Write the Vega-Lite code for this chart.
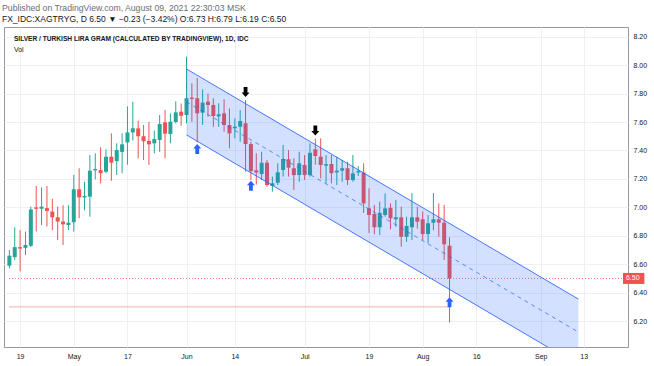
{
  "$schema": "https://vega.github.io/schema/vega-lite/v6.json",
  "width": 624,
  "height": 320,
  "autosize": {"type": "none"},
  "padding": {"left": 4, "top": 27, "right": 26, "bottom": 19},
  "background": "white",
  "config": {"view": {"stroke": "#9598a1", "strokeWidth": 1}, "font": "Liberation Sans", "axis": {"labelOverlap": false, "labelFont": "Liberation Sans"}},
  "title": {
    "text": "Published on TradingView.com, August 09, 2021 22:30:03 MSK",
    "subtitle": "FX_IDC:XAGTRYG, D 6.50 ▼ −0.23 (−3.42%) O:6.73 H:6.79 L:6.19 C:6.50",
    "anchor": "start",
    "frame": "bounds",
    "offset": 4,
    "dx": -2,
    "font": "Liberation Sans",
    "fontSize": 8.7,
    "fontWeight": "normal",
    "color": "#6a6d78",
    "subtitleFont": "Liberation Sans",
    "subtitleFontSize": 8.5,
    "subtitleColor": "#131722",
    "subtitlePadding": 2
  },
  "datasets": {
    "candles": [
      {"i": -2, "o": 6.59, "h": 6.70, "l": 6.57, "c": 6.66},
      {"i": -1, "o": 6.65, "h": 6.86, "l": 6.63, "c": 6.72},
      {"i": 0, "o": 6.72, "h": 6.84, "l": 6.55, "c": 6.71},
      {"i": 1, "o": 6.715, "h": 6.83, "l": 6.665, "c": 6.735},
      {"i": 2, "o": 6.73, "h": 7.005, "l": 6.72, "c": 6.985},
      {"i": 3, "o": 7.0, "h": 7.15, "l": 6.83, "c": 6.99},
      {"i": 4, "o": 6.99, "h": 7.14, "l": 6.875, "c": 7.005},
      {"i": 5, "o": 6.995, "h": 7.15, "l": 6.865, "c": 6.975},
      {"i": 6, "o": 6.97, "h": 7.06, "l": 6.84, "c": 6.93},
      {"i": 7, "o": 6.93, "h": 7.005, "l": 6.77, "c": 6.9},
      {"i": 8, "o": 6.9, "h": 7.015, "l": 6.735, "c": 6.88},
      {"i": 9, "o": 6.876, "h": 7.015, "l": 6.84, "c": 6.892},
      {"i": 10, "o": 6.895, "h": 7.227, "l": 6.83, "c": 7.127},
      {"i": 11, "o": 7.127, "h": 7.275, "l": 6.923, "c": 7.07},
      {"i": 12, "o": 7.07, "h": 7.18, "l": 6.98, "c": 7.08},
      {"i": 13, "o": 7.075, "h": 7.368, "l": 6.934, "c": 7.258},
      {"i": 14, "o": 7.26, "h": 7.38, "l": 7.197, "c": 7.27},
      {"i": 15, "o": 7.262, "h": 7.422, "l": 7.169, "c": 7.24},
      {"i": 16, "o": 7.25, "h": 7.408, "l": 7.24, "c": 7.356},
      {"i": 17, "o": 7.356, "h": 7.52, "l": 7.187, "c": 7.314},
      {"i": 18, "o": 7.325, "h": 7.45, "l": 7.227, "c": 7.403},
      {"i": 19, "o": 7.39, "h": 7.52, "l": 7.24, "c": 7.443},
      {"i": 20, "o": 7.457, "h": 7.71, "l": 7.3, "c": 7.527},
      {"i": 21, "o": 7.527, "h": 7.743, "l": 7.47, "c": 7.556},
      {"i": 22, "o": 7.555, "h": 7.61, "l": 7.345, "c": 7.5},
      {"i": 23, "o": 7.5, "h": 7.58, "l": 7.333, "c": 7.465},
      {"i": 24, "o": 7.467, "h": 7.6, "l": 7.298, "c": 7.443},
      {"i": 25, "o": 7.45, "h": 7.54, "l": 7.38, "c": 7.48},
      {"i": 26, "o": 7.474, "h": 7.649, "l": 7.391, "c": 7.586},
      {"i": 27, "o": 7.598, "h": 7.684, "l": 7.345, "c": 7.518},
      {"i": 28, "o": 7.516, "h": 7.661, "l": 7.45, "c": 7.602},
      {"i": 29, "o": 7.6, "h": 7.745, "l": 7.59, "c": 7.668},
      {"i": 30, "o": 7.673, "h": 7.73, "l": 7.574, "c": 7.644},
      {"i": 31, "o": 7.649, "h": 8.06, "l": 7.59, "c": 7.767},
      {"i": 32, "o": 7.771, "h": 7.872, "l": 7.602, "c": 7.762},
      {"i": 33, "o": 7.767, "h": 7.91, "l": 7.457, "c": 7.661},
      {"i": 34, "o": 7.666, "h": 7.83, "l": 7.58, "c": 7.736},
      {"i": 35, "o": 7.743, "h": 7.8, "l": 7.637, "c": 7.72},
      {"i": 36, "o": 7.72, "h": 7.767, "l": 7.567, "c": 7.642},
      {"i": 37, "o": 7.64, "h": 7.732, "l": 7.567, "c": 7.654},
      {"i": 38, "o": 7.661, "h": 7.76, "l": 7.532, "c": 7.579},
      {"i": 39, "o": 7.579, "h": 7.696, "l": 7.415, "c": 7.52},
      {"i": 40, "o": 7.556, "h": 7.626, "l": 7.485, "c": 7.567},
      {"i": 41, "o": 7.567, "h": 7.684, "l": 7.462, "c": 7.607},
      {"i": 42, "o": 7.591, "h": 7.755, "l": 7.251, "c": 7.445},
      {"i": 43, "o": 7.445, "h": 7.462, "l": 7.192, "c": 7.255},
      {"i": 44, "o": 7.26, "h": 7.38, "l": 7.16, "c": 7.245},
      {"i": 45, "o": 7.234, "h": 7.391, "l": 7.192, "c": 7.314},
      {"i": 46, "o": 7.314, "h": 7.333, "l": 7.145, "c": 7.157},
      {"i": 47, "o": 7.15, "h": 7.216, "l": 7.11, "c": 7.169},
      {"i": 48, "o": 7.173, "h": 7.31, "l": 7.157, "c": 7.246},
      {"i": 49, "o": 7.263, "h": 7.438, "l": 7.216, "c": 7.34},
      {"i": 50, "o": 7.338, "h": 7.403, "l": 7.216, "c": 7.279},
      {"i": 51, "o": 7.275, "h": 7.345, "l": 7.122, "c": 7.227},
      {"i": 52, "o": 7.227, "h": 7.391, "l": 7.18, "c": 7.31},
      {"i": 53, "o": 7.298, "h": 7.368, "l": 7.192, "c": 7.227},
      {"i": 54, "o": 7.227, "h": 7.45, "l": 7.216, "c": 7.384},
      {"i": 55, "o": 7.408, "h": 7.485, "l": 7.3, "c": 7.361},
      {"i": 56, "o": 7.356, "h": 7.485, "l": 7.204, "c": 7.298},
      {"i": 57, "o": 7.293, "h": 7.368, "l": 7.169, "c": 7.303},
      {"i": 58, "o": 7.305, "h": 7.368, "l": 7.169, "c": 7.24},
      {"i": 59, "o": 7.246, "h": 7.356, "l": 7.157, "c": 7.258},
      {"i": 60, "o": 7.258, "h": 7.333, "l": 7.18, "c": 7.275},
      {"i": 61, "o": 7.275, "h": 7.32, "l": 7.157, "c": 7.192},
      {"i": 62, "o": 7.192, "h": 7.368, "l": 7.18, "c": 7.239},
      {"i": 63, "o": 7.245, "h": 7.29, "l": 7.22, "c": 7.255},
      {"i": 64, "o": 7.245, "h": 7.31, "l": 6.96, "c": 7.028},
      {"i": 65, "o": 6.993, "h": 7.134, "l": 6.82, "c": 6.946},
      {"i": 66, "o": 6.953, "h": 7.017, "l": 6.81, "c": 6.86},
      {"i": 67, "o": 6.86, "h": 7.04, "l": 6.805, "c": 6.962},
      {"i": 68, "o": 6.946, "h": 7.099, "l": 6.934, "c": 6.993},
      {"i": 69, "o": 6.997, "h": 7.028, "l": 6.846, "c": 6.923},
      {"i": 70, "o": 6.916, "h": 7.052, "l": 6.864, "c": 6.93},
      {"i": 71, "o": 6.93, "h": 7.005, "l": 6.723, "c": 6.793},
      {"i": 72, "o": 6.793, "h": 6.934, "l": 6.758, "c": 6.869},
      {"i": 73, "o": 6.86, "h": 7.1, "l": 6.77, "c": 6.93},
      {"i": 74, "o": 6.93, "h": 7.005, "l": 6.85, "c": 6.899},
      {"i": 75, "o": 6.916, "h": 6.97, "l": 6.77, "c": 6.812},
      {"i": 76, "o": 6.812, "h": 6.946, "l": 6.747, "c": 6.888},
      {"i": 77, "o": 6.892, "h": 7.1, "l": 6.84, "c": 6.916},
      {"i": 78, "o": 6.916, "h": 7.028, "l": 6.793, "c": 6.892},
      {"i": 79, "o": 6.892, "h": 7.017, "l": 6.63, "c": 6.74},
      {"i": 80, "o": 6.73, "h": 6.79, "l": 6.19, "c": 6.5}
    ],
    "channel": [
      {"i": 31, "hi": 7.973, "mid": 7.741, "lo": 7.509},
      {"i": 104, "hi": 6.355, "mid": 6.123, "lo": 5.891}
    ],
    "arrows": [
      {"i": 42, "p": 7.811, "kind": "down"},
      {"i": 55, "p": 7.54, "kind": "down"},
      {"i": 33, "p": 7.41, "kind": "up"},
      {"i": 43, "p": 7.152, "kind": "up"},
      {"i": 80, "p": 6.332, "kind": "up"}
    ],
    "notes": [
      {"label": "SILVER / TURKISH LIRA GRAM (CALCULATED BY TRADINGVIEW), 1D, IDC"}
    ],
    "vol": [
      {"label": "Vol"}
    ],
    "tag": [
      {"label": "6.50"}
    ]
  },
  "layer": [
    {
      "data": {"name": "candles"},
      "mark": {"type": "rule", "strokeWidth": 1, "clip": true},
      "encoding": {
        "x": {
          "field": "i",
          "type": "quantitative",
          "scale": {"domain": [-2.07, 112.32], "nice": false, "zero": false},
          "axis": {
            "values": [0, 10, 20, 31, 40, 53, 65, 75, 85, 97, 105],
            "tickCount": 20,
            "labelExpr": "datum.value == 0 ? '19' : datum.value == 10 ? 'May' : datum.value == 20 ? '17' : datum.value == 31 ? 'Jun' : datum.value == 40 ? '14' : datum.value == 53 ? 'Jul' : datum.value == 65 ? '19' : datum.value == 75 ? 'Aug' : datum.value == 85 ? '16' : datum.value == 97 ? 'Sep' : '13'",
            "title": null,
            "domain": false,
            "ticks": false,
            "labelPadding": 5,
            "labelFont": "Liberation Sans",
            "labelFontSize": 7,
            "labelColor": "#131722",
            "labelFlush": false,
            "labelOverlap": false,
            "grid": true,
            "gridColor": "#eef0f5"
          }
        },
        "y": {
          "field": "l",
          "type": "quantitative",
          "scale": {"domain": [6.0179, 8.2682], "nice": false, "zero": false},
          "axis": {
            "orient": "right",
            "values": [6.2, 6.4, 6.6, 6.8, 7.0, 7.2, 7.4, 7.6, 7.8, 8.0, 8.2],
            "tickCount": 20,
            "format": ".2f",
            "title": null,
            "domain": false,
            "ticks": false,
            "labelPadding": 5,
            "labelFont": "Liberation Sans",
            "labelFontSize": 7,
            "labelColor": "#131722",
            "labelAlign": "left",
            "labelOverlap": false,
            "labelFlush": false,
            "grid": true,
            "gridColor": "#eef0f5"
          }
        },
        "y2": {"field": "h"},
        "color": {"condition": {"test": "datum.c >= datum.o", "value": "#26a69a"}, "value": "#ef5350"}
      }
    },
    {
      "data": {"name": "candles"},
      "mark": {"type": "bar", "size": 4, "clip": true},
      "encoding": {
        "x": {"field": "i", "type": "quantitative"},
        "y": {"field": "o", "type": "quantitative"},
        "y2": {"field": "c"},
        "color": {"condition": {"test": "datum.c >= datum.o", "value": "#26a69a"}, "value": "#ef5350"}
      }
    },
    {
      "data": {"name": "tag"},
      "mark": {"type": "rule", "color": "#ef5350", "strokeWidth": 1, "strokeDash": [1, 2], "opacity": 0.8},
      "encoding": {
        "x": {"datum": -2.07, "type": "quantitative"},
        "x2": {"datum": 112.32},
        "y": {"datum": 6.5, "type": "quantitative"}
      }
    },
    {
      "data": {"name": "tag"},
      "mark": {"type": "rule", "color": "#f2b0b0", "strokeWidth": 1},
      "encoding": {
        "x": {"datum": -2.07, "type": "quantitative"},
        "x2": {"datum": 80},
        "y": {"datum": 6.3, "type": "quantitative"}
      }
    },
    {
      "data": {"name": "channel"},
      "mark": {"type": "area", "color": "#2962ff", "opacity": 0.2, "clip": true},
      "encoding": {
        "x": {"field": "i", "type": "quantitative"},
        "y": {"field": "hi", "type": "quantitative"},
        "y2": {"field": "lo"}
      }
    },
    {
      "data": {"name": "channel"},
      "mark": {"type": "line", "color": "#2962ff", "strokeWidth": 1, "opacity": 0.85, "clip": true},
      "encoding": {
        "x": {"field": "i", "type": "quantitative"},
        "y": {"field": "hi", "type": "quantitative"}
      }
    },
    {
      "data": {"name": "channel"},
      "mark": {"type": "line", "color": "#2962ff", "strokeWidth": 1, "opacity": 0.85, "clip": true},
      "encoding": {
        "x": {"field": "i", "type": "quantitative"},
        "y": {"field": "lo", "type": "quantitative"}
      }
    },
    {
      "data": {"name": "channel"},
      "mark": {"type": "line", "color": "#2962ff", "strokeWidth": 1, "opacity": 0.7, "strokeDash": [4, 4], "clip": true},
      "encoding": {
        "x": {"field": "i", "type": "quantitative"},
        "y": {"field": "mid", "type": "quantitative"}
      }
    },
    {
      "data": {"name": "arrows"},
      "transform": [{"filter": "datum.kind == 'down'"}],
      "mark": {"type": "point", "filled": true, "opacity": 1, "color": "#000000", "size": 100, "shape": "M-0.38,-1L0.38,-1L0.38,0.1L0.8,0.1L0,1L-0.8,0.1L-0.38,0.1Z"},
      "encoding": {
        "x": {"field": "i", "type": "quantitative"},
        "y": {"field": "p", "type": "quantitative"}
      }
    },
    {
      "data": {"name": "arrows"},
      "transform": [{"filter": "datum.kind == 'up'"}],
      "mark": {"type": "point", "filled": true, "opacity": 1, "color": "#2962ff", "size": 100, "shape": "M-0.38,1L0.38,1L0.38,-0.1L0.8,-0.1L0,-1L-0.8,-0.1L-0.38,-0.1Z"},
      "encoding": {
        "x": {"field": "i", "type": "quantitative"},
        "y": {"field": "p", "type": "quantitative"}
      }
    },
    {
      "data": {"name": "notes"},
      "mark": {"type": "text", "align": "left", "baseline": "middle", "font": "Liberation Sans", "fontSize": 6.6, "fontWeight": "bold", "color": "#131722"},
      "encoding": {
        "x": {"datum": -1.15, "type": "quantitative"},
        "y": {"datum": 8.184, "type": "quantitative"},
        "text": {"field": "label"}
      }
    },
    {
      "data": {"name": "vol"},
      "mark": {"type": "text", "align": "left", "baseline": "middle", "font": "Liberation Sans", "fontSize": 7, "color": "#131722"},
      "encoding": {
        "x": {"datum": -1.15, "type": "quantitative"},
        "y": {"datum": 8.106, "type": "quantitative"},
        "text": {"field": "label"}
      }
    },
    {
      "data": {"name": "tag"},
      "mark": {"type": "rule", "color": "#ef5350", "strokeWidth": 11, "clip": false},
      "encoding": {
        "x": {"datum": 112.32, "type": "quantitative"},
        "x2": {"datum": 116.3},
        "y": {"datum": 6.5, "type": "quantitative"}
      }
    },
    {
      "data": {"name": "tag"},
      "mark": {"type": "text", "align": "left", "baseline": "middle", "font": "Liberation Sans", "fontSize": 7, "color": "#ffffff", "clip": false},
      "encoding": {
        "x": {"datum": 112.87, "type": "quantitative"},
        "y": {"datum": 6.5, "type": "quantitative"},
        "text": {"field": "label"}
      }
    }
  ]
}
